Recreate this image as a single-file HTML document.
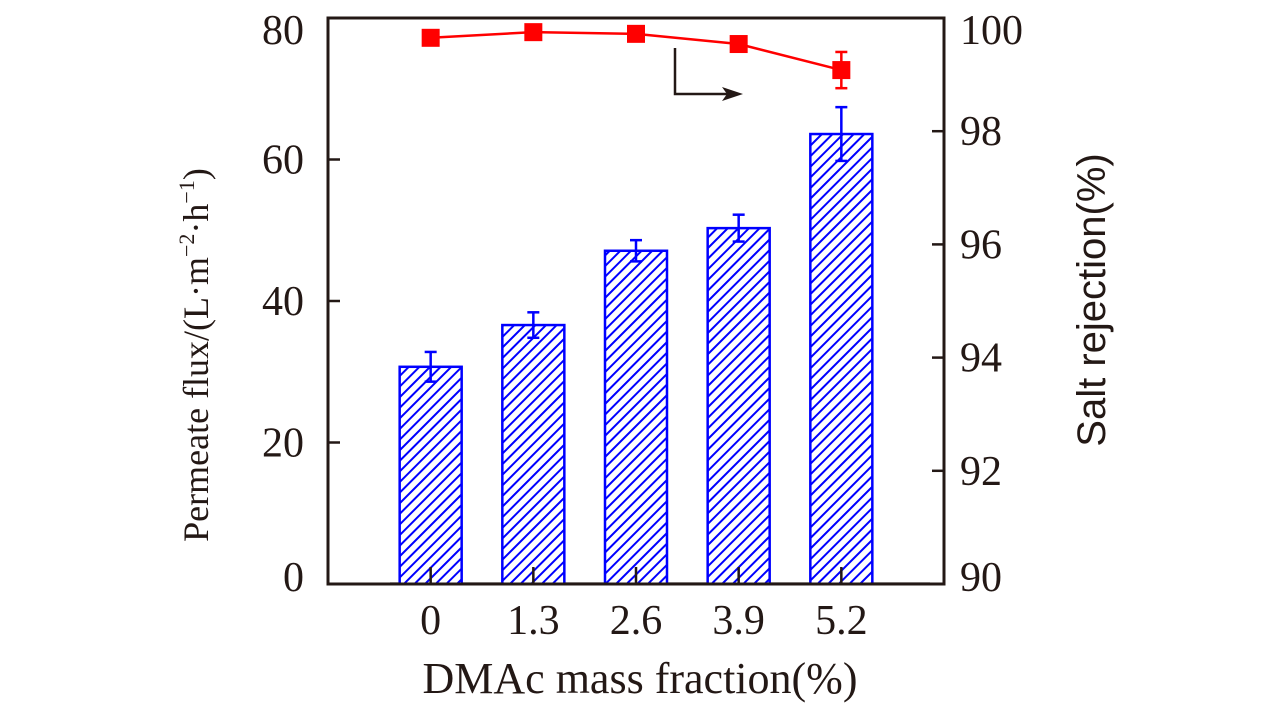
<!DOCTYPE html>
<html><head><meta charset="utf-8"><style>
body{margin:0;background:#fff;width:1283px;height:709px;overflow:hidden}
text{font-family:"Liberation Serif",serif;fill:#231815}
</style></head><body>
<svg id="c" width="1283" height="709"></svg>
<script>
const categories=["0","1.3","2.6","3.9","5.2"];
const fluxValues=[30.7,36.6,47.1,50.3,63.6];
const fluxErrors=[2.1,1.8,1.5,1.9,3.8];
const rejectionValues=[99.65,99.75,99.72,99.54,99.08];
const rejectionErrors=[0.03,0.03,0.03,0.05,0.32];
const leftTicks=[0,20,40,60,80];
const rightTicks=[90,92,94,96,98,100];

const NS="http://www.w3.org/2000/svg";
const svg=document.getElementById('c');
const L=328,R=944,T=18,B=584;
const x=i=>L+(i+1)*(R-L)/(categories.length+1);
const yL=v=>B-(v/80)*(B-T);
const yR=v=>B-((v-90)/10)*(B-T);
function el(tag,attrs,parent){const e=document.createElementNS(NS,tag);for(const k in attrs)e.setAttribute(k,attrs[k]);(parent||svg).appendChild(e);return e;}

const defs=el('defs',{});
const pat=el('pattern',{id:'hatch',patternUnits:'userSpaceOnUse',width:7.5,height:7.5,patternTransform:'rotate(45)'},defs);
el('rect',{x:0,y:0,width:7.5,height:7.5,fill:'#fff'},pat);
el('line',{x1:0,y1:0,x2:0,y2:7.5,stroke:'#0000ff','stroke-width':4},pat);

el('line',{x1:390,y1:B-1,x2:930,y2:B-1,stroke:'#ccc','stroke-width':2});

fluxValues.forEach((v,i)=>{
  const r=el('rect',{x:x(i)-31,y:yL(v),width:62,height:B-yL(v),fill:'url(#hatch)',stroke:'#0000ff','stroke-width':2.5});
  
  
  const g=el('g',{stroke:'#0000ff','stroke-width':2.5});
  
  
  const a=yL(v+fluxErrors[i]),b=yL(v-fluxErrors[i]);
  el('line',{x1:x(i),y1:a,x2:x(i),y2:b},g);
  el('line',{x1:x(i)-6,y1:a,x2:x(i)+6,y2:a},g);
  el('line',{x1:x(i)-6,y1:b,x2:x(i)+6,y2:b},g);
});

categories.forEach((c,i)=>{
  el('line',{x1:x(i),y1:B,x2:x(i),y2:B-17,stroke:'#231815','stroke-width':2.5});
  const t=el('text',{x:x(i),y:B+50,'font-size':42,'text-anchor':'middle'});t.textContent=c;
  
  
});
leftTicks.forEach(v=>{
  el('line',{x1:L,y1:yL(v),x2:L+12,y2:yL(v),stroke:'#231815','stroke-width':2.5});
  const t=el('text',{x:L-24,y:yL(v)+14-(v===0?7:0)+(v===80?12:0),'font-size':42,'text-anchor':'end'});t.textContent=v;
  
  
});
rightTicks.forEach(v=>{
  el('line',{x1:R,y1:yR(v),x2:R-12,y2:yR(v),stroke:'#231815','stroke-width':2.5});
  const t=el('text',{x:R+16,y:yR(v)+14-(v===90?7:0)+(v===100?12:0),'font-size':42,'text-anchor':'start'});t.textContent=v;
  
  
});

const pts=rejectionValues.map((v,i)=>x(i)+','+yR(v)).join(' ');
const pl=el('polyline',{points:pts,fill:'none',stroke:'#ff0000','stroke-width':2.5});


rejectionValues.forEach((v,i)=>{
  const a=yR(v+rejectionErrors[i]),b=yR(v-rejectionErrors[i]);
  el('line',{x1:x(i),y1:a,x2:x(i),y2:b,stroke:'#ff0000','stroke-width':2.5});
  el('line',{x1:x(i)-6,y1:a,x2:x(i)+6,y2:a,stroke:'#ff0000','stroke-width':2.5});
  el('line',{x1:x(i)-6,y1:b,x2:x(i)+6,y2:b,stroke:'#ff0000','stroke-width':2.5});
  const m=el('rect',{x:x(i)-9,y:yR(v)-9,width:18,height:18,fill:'#ff0000'});
  
  
});

const ar=el('g',{});


el('polyline',{points:'675,48 675,94 728,94',fill:'none',stroke:'#231815','stroke-width':2.5},ar);
el('polygon',{points:'743,94 722,87 727,94 722,101',fill:'#231815'},ar);

const fr=el('rect',{x:L,y:T,width:R-L,height:B-T,fill:'none',stroke:'#231815','stroke-width':3});



const xt=el('text',{x:640,y:693,'font-size':44,'text-anchor':'middle'});
xt.textContent='DMAc mass fraction(%)';


const yt=el('text',{x:0,y:0,'font-size':36,'text-anchor':'middle',transform:'translate(208,355) rotate(-90)'});
yt.innerHTML='Permeate flux/(L·m<tspan dy="-14" font-size="22">−2</tspan><tspan dy="14">·h</tspan><tspan dy="-14" font-size="22">−1</tspan><tspan dy="14">)</tspan>';


const rt=el('text',{x:0,y:0,'font-size':40,'text-anchor':'middle',style:'font-family:"Liberation Sans",sans-serif',transform:'translate(1105,300) rotate(-90)'});
rt.textContent='Salt rejection(%)';


</script>
</body></html>
